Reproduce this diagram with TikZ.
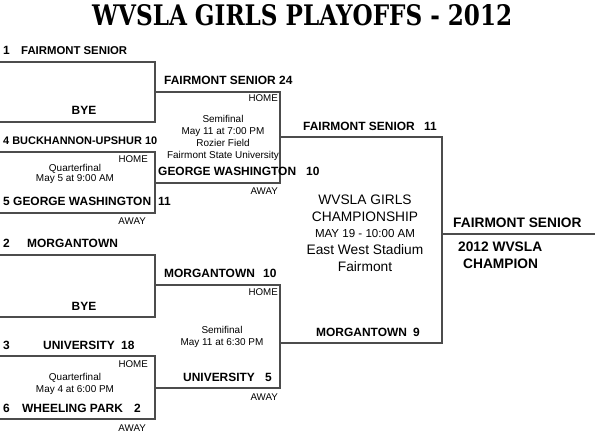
\documentclass[tikz,border=0pt]{standalone}
\usepackage{fontspec}
\setmainfont{Liberation Sans}
\newfontfamily\titlefont{DejaVu Serif}
\usepackage{graphicx}
\usetikzlibrary{positioning}

\begin{document}
\begin{tikzpicture}[x=1bp, y=-1bp,
    team/.style={anchor=base west, inner sep=0pt, font=\fontsize{12}{14}\selectfont\bfseries},
    score/.style={anchor=base west, inner sep=0pt, font=\fontsize{12}{14}\selectfont\bfseries},
    winner/.style={anchor=base west, inner sep=0pt, font=\fontsize{13.8}{16}\selectfont\bfseries},
    note/.style={anchor=base, inner sep=0pt, font=\fontsize{10}{12}\selectfont},
    side/.style={anchor=base east, inner sep=0pt, font=\fontsize{9.8}{12}\selectfont},
    champ/.style={anchor=base, inner sep=0pt, font=\fontsize{13.8}{16}\selectfont},
    bline/.style={draw=black!70, line width=1.2bp}]

    \useasboundingbox (0,0) rectangle (595,436);

    % title
    \node[inner sep=0pt, anchor=north west] (title) at (92,4)
        {\resizebox{420bp}{21bp}{\titlefont\bfseries WVSLA GIRLS PLAYOFFS - 2012}};

    % bracket points
    \coordinate (l1) at (0,62);
    \coordinate (lbyeA) at (0,122);
    \coordinate (l4) at (0,152);
    \coordinate (l5) at (0,213);
    \coordinate (l2) at (0,255);
    \coordinate (lbyeB) at (0,317);
    \coordinate (l3) at (0,356);
    \coordinate (l6) at (0,419);
    \coordinate (q1) at (155,92);
    \coordinate (q2) at (155,183);
    \coordinate (q3) at (155,285);
    \coordinate (q4) at (155,388);
    \coordinate (semiA) at (280,137);
    \coordinate (semiB) at (280,343);
    \coordinate (fin) at (442,234);
    \coordinate (win) at (595,234);

    \draw[bline] (l1) -| (q1) |- (lbyeA);
    \draw[bline] (l4) -| (q2) |- (l5);
    \draw[bline] (l2) -| (q3) |- (lbyeB);
    \draw[bline] (l3) -| (q4) |- (l6);
    \draw[bline] (q1) -| (semiA) |- (q2);
    \draw[bline] (q3) -| (semiB) |- (q4);
    \draw[bline] (semiA) -| (fin) |- (semiB);
    \draw[bline] (fin) -- (win);

    % first round
    \node[team] (seed1) at (3,55) {1};
    \node[team, font=\fontsize{11.4}{14}\selectfont\bfseries] (fsA) at (21,55) {FAIRMONT SENIOR};
    \node[team, anchor=base] (byeA) at (84,115) {BYE};
    \node[team, font=\fontsize{11}{14}\selectfont\bfseries] (buck) at (3,145) {4 BUCKHANNON-UPSHUR 10};
    \node[team] (seed5) at (3,206) {5};
    \node[team] (gwA) at (13,206) {GEORGE WASHINGTON};
    \node[score] (gwAsc) at (158,206) {11};
    \node[team] (seed2) at (3,248) {2};
    \node[team] (morA) at (27,248) {MORGANTOWN};
    \node[team, anchor=base] (byeB) at (84,310) {BYE};
    \node[team] (seed3) at (3,349) {3};
    \node[team] (uniA) at (43,349) {UNIVERSITY};
    \node[score] (uniAsc) at (121,349) {18};
    \node[team] (seed6) at (3,412) {6};
    \node[team] (wpA) at (22,412) {WHEELING PARK};
    \node[score] (wpAsc) at (134,412) {2};

    % quarterfinal notes
    \node[side] (homeQA) at (148,163) {HOME};
    \node[note] (qfA) at (75,171.5) {Quarterfinal};
    \node[note] (qfAdate) at (75,182) {May 5 at 9:00 AM};
    \node[side] (awayQA) at (146,225) {AWAY};
    \node[side] (homeQB) at (148,367) {HOME};
    \node[note] (qfB) at (75,380) {Quarterfinal};
    \node[note] (qfBdate) at (75,392) {May 4 at 6:00 PM};
    \node[side] (awayQB) at (146,431) {AWAY};

    % semifinals
    \node[team] (fsB) at (164,85) {FAIRMONT SENIOR};
    \node[score] (fsBsc) at (279,85) {24};
    \node[side] (homeSA) at (278,102) {HOME};
    \node[note] (sfA) at (223,123) {Semifinal};
    \node[note] (sfAdate) at (223,135) {May 11 at 7:00 PM};
    \node[note] (sfAfield) at (223,147) {Rozier Field};
    \node[note] (sfAplace) at (223,158.5) {Fairmont State University};
    \node[team] (gwB) at (158,176) {GEORGE WASHINGTON};
    \node[score] (gwBsc) at (306,176) {10};
    \node[side] (awaySA) at (278,195) {AWAY};
    \node[team] (morB) at (164,278) {MORGANTOWN};
    \node[score] (morBsc) at (263,278) {10};
    \node[side] (homeSB) at (278,296) {HOME};
    \node[note] (sfB) at (222,333) {Semifinal};
    \node[note] (sfBdate) at (222,345) {May 11 at 6:30 PM};
    \node[team] (uniB) at (183,381) {UNIVERSITY};
    \node[score] (uniBsc) at (265,381) {5};
    \node[side] (awaySB) at (278,400) {AWAY};

    % final
    \node[team] (fsC) at (303,131) {FAIRMONT SENIOR};
    \node[score] (fsCsc) at (424,131) {11};
    \node[team] (morC) at (316,336) {MORGANTOWN};
    \node[score] (morCsc) at (413,336) {9};
    \node[champ] (chA) at (365,205) {WVSLA GIRLS};
    \node[champ] (chB) at (365,222) {CHAMPIONSHIP};
    \node[champ, font=\fontsize{11.6}{14}\selectfont] (chC) at (365,238) {MAY 19 - 10:00 AM};
    \node[champ] (chD) at (365,255) {East West Stadium};
    \node[champ] (chE) at (365,272) {Fairmont};

    % champion
    \node[winner] (fsD) at (453,228) {FAIRMONT SENIOR};
    \node[winner] (titleA) at (458,252) {2012 WVSLA};
    \node[winner] (titleB) at (463,269) {CHAMPION};
\end{tikzpicture}
\end{document}
